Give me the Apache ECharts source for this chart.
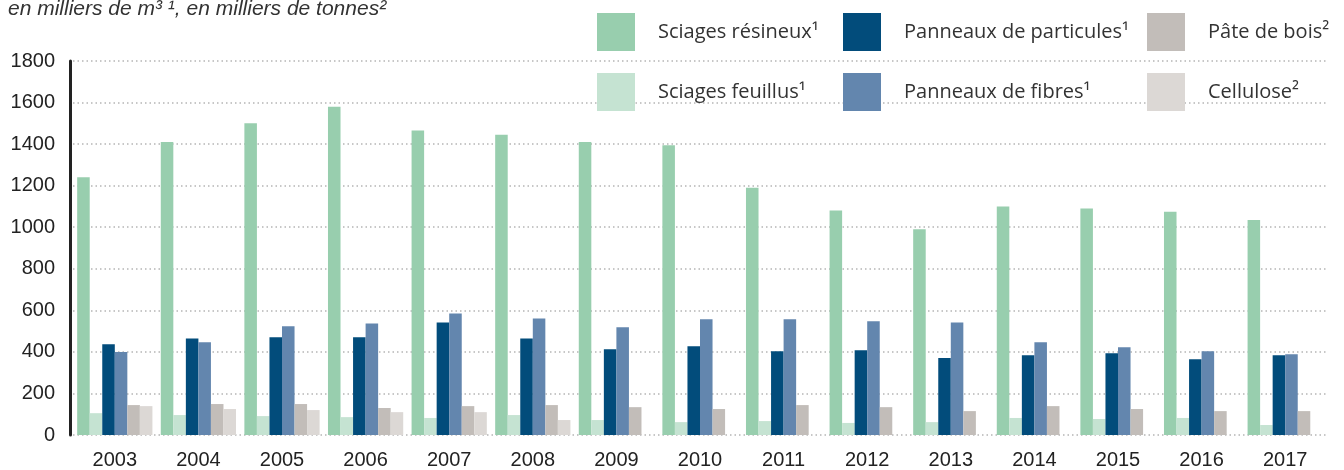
<!DOCTYPE html>
<html>
<head>
<meta charset="utf-8">
<script src="https://cdn.jsdelivr.net/npm/echarts@6/dist/echarts.min.js"></script>
<style>
html,body{margin:0;padding:0;background:#fff;}
#chart{width:1344px;height:470px;}
</style>
</head>
<body>
<div id="chart"></div>
<script>
const years = ['2003','2004','2005','2006','2007','2008','2009','2010','2011','2012','2013','2014','2015','2016','2017'];
const seriesNames = ['Sciages résineux¹','Sciages feuillus¹','Panneaux de particules¹','Panneaux de fibres¹','Pâte de bois²','Cellulose²'];
const sciagesResineux = [1240,1410,1500,1580,1465,1445,1410,1395,1190,1080,990,1100,1090,1075,1035];
const sciagesFeuillus = [105,96,91,86,82,96,72,62,67,58,62,82,77,82,48];
const panneauxParticules = [437,465,470,470,542,465,413,427,403,408,370,384,394,365,384];
const panneauxFibres = [400,446,523,537,585,561,518,557,557,547,542,446,422,403,389];
const pateDeBois = [144,149,149,130,139,144,134,125,144,134,115,139,125,115,115];
const cellulose = [139,125,120,110,110,72,null,null,null,null,null,null,null,null,null];
const yTicks = [0,200,400,600,800,1000,1200,1400,1600,1800];
const colors = ['#98CEAE','#C5E3D2','#024C7B','#6386AE','#C2BDB9','#DCD8D5'];
const values = [sciagesResineux,sciagesFeuillus,panneauxParticules,panneauxFibres,pateDeBois,cellulose];

const chart = echarts.init(document.getElementById('chart'));
const legendBase = {
  orient:'vertical', top:13, padding:0, itemGap:22, itemWidth:38, itemHeight:38,
  icon:'rect', selectedMode:false,
  textStyle:{fontFamily:'"Open Sans", "Liberation Sans", sans-serif', fontSize:20, color:'#333', padding:[0,0,0,18]}
};
chart.setOption({
  animation:false,
  color: colors,
  title:{
    text:'en milliers de m³ ¹, en milliers de tonnes²',
    left:8, top:0, padding:0,
    textStyle:{fontFamily:'"Liberation Sans", Arial, sans-serif', fontStyle:'italic', fontWeight:'normal', fontSize:21, lineHeight:18, color:'#333'}
  },
  legend:[
    Object.assign({}, legendBase, {left:597, data:[seriesNames[0],seriesNames[1]]}),
    Object.assign({}, legendBase, {left:843, data:[seriesNames[2],seriesNames[3]]}),
    Object.assign({}, legendBase, {left:1147, data:[seriesNames[4],seriesNames[5]]})
  ],
  grid:{left:73, right:17, top:61, bottom:34, containLabel:false},
  xAxis:{
    type:'category', data:years,
    axisLine:{show:false}, axisTick:{show:false},
    axisLabel:{fontFamily:'"Liberation Sans", Arial, sans-serif', fontSize:20, color:'#222', margin:15}
  },
  yAxis:{
    type:'value', min:yTicks[0], max:yTicks[yTicks.length-1], interval:200, offset:3,
    axisLine:{show:true, lineStyle:{color:'#222', width:3}},
    axisTick:{show:false},
    axisLabel:{fontFamily:'"Liberation Sans", Arial, sans-serif', fontSize:20, color:'#222', margin:15,
      formatter: v => String(v)},
    splitLine:{show:true, lineStyle:{color:'#b5b5b5', type:[1.5,3], width:1.5}}
  },
  series: seriesNames.map((n,i)=>({
    name:n, type:'bar', data:values[i], barGap:'0%', barCategoryGap:'10%',
    itemStyle:{color:colors[i]}
  }))
});
</script>
</body>
</html>
